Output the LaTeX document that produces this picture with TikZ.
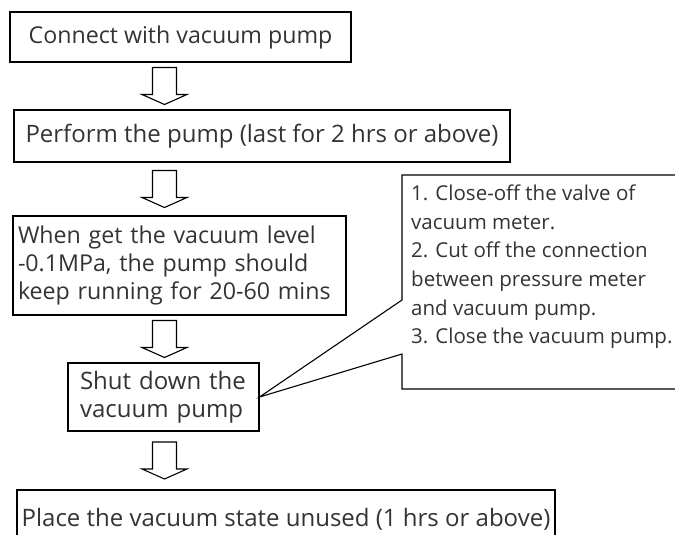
\documentclass[tikz,border=0pt]{standalone}
\usepackage{fontspec}
\setmainfont{Open Sans}
\usetikzlibrary{calc}

\begin{document}
\begin{tikzpicture}[x=1pt, y=-1pt,
    every node/.style={font=\fontsize{24}{28.4}\selectfont, text=black!80},
    bx/.style={draw, line width=1.1pt, inner sep=0pt},
    lbx/.style={bx, align=left},
    sm/.style={font=\fontsize{23.2}{28.4}\selectfont},
    nt/.style={font=\fontsize{20.5}{28.7}\selectfont, align=left,
               inner sep=0pt, anchor=north west},
    frm/.style={line width=1.1pt, line join=miter},
    blk/.style={line width=1.1pt, line join=miter, to path={
        let \p1=($(\tikztostart)!0.5!(\tikztotarget)$) in
        (\x1-12pt,\y1+18.5pt) -- (\x1-12pt,\y1-8.5pt) -- (\x1-22.5pt,\y1-8.5pt)
        -- (\x1,\y1-18.5pt) -- (\x1+22.5pt,\y1-8.5pt) -- (\x1+12pt,\y1-8.5pt)
        -- (\x1+12pt,\y1+18.5pt) -- cycle}},
  ]
  \useasboundingbox (0,0) rectangle (675,535);

  % steps
  \node[bx, sm, minimum width=341pt, minimum height=50pt] (conn) at (180.5, 37)
    {Connect with vacuum pump};
  \node[bx, minimum width=496pt, minimum height=52pt] (perf) at (262, 136)
    {Perform the pump (last for 2 hrs or above)};
  \node[lbx, sm, inner xsep=5pt, text width=323pt, minimum height=99pt] (keep) at (179.5, 265.5)
    {When get the vacuum level\\-0.1MPa, the pump should\\keep running for 20-60 mins};
  \node[lbx, inner xsep=12pt, text width=167pt, minimum height=68pt] (shut) at (163.5, 397)
    {Shut down the\\vacuum pump};
  \node[bx, minimum width=538pt, minimum height=58pt] (plac) at (286, 519)
    {Place the vacuum state unused (1 hrs or above)};

  % block arrows
  \coordinate (ax) at (164.5, 0);
  \draw[blk] (conn.south -| ax) to (perf.north -| ax);
  \draw[blk] (perf.south -| ax) to (keep.north -| ax);
  \draw[blk] (keep.south -| ax) to (shut.north -| ax);
  \draw[blk] (shut.south -| ax) to (plac.north -| ax);

  % callout
  \node[nt] (note) at (411, 184.5)
    {1. Close-off the valve of\\vacuum meter.\\2. Cut off the connection\\between pressure meter\\and vacuum pump.\\3. Close the vacuum pump.};
  \coordinate (c1) at (402, 300);
  \coordinate (c2) at (402, 354);
  \draw[frm] (700, 175) -- (402, 175) -- (c1) -- (shut.east) -- (c2) -- (402, 389) -- (700, 389);
\end{tikzpicture}
\end{document}
